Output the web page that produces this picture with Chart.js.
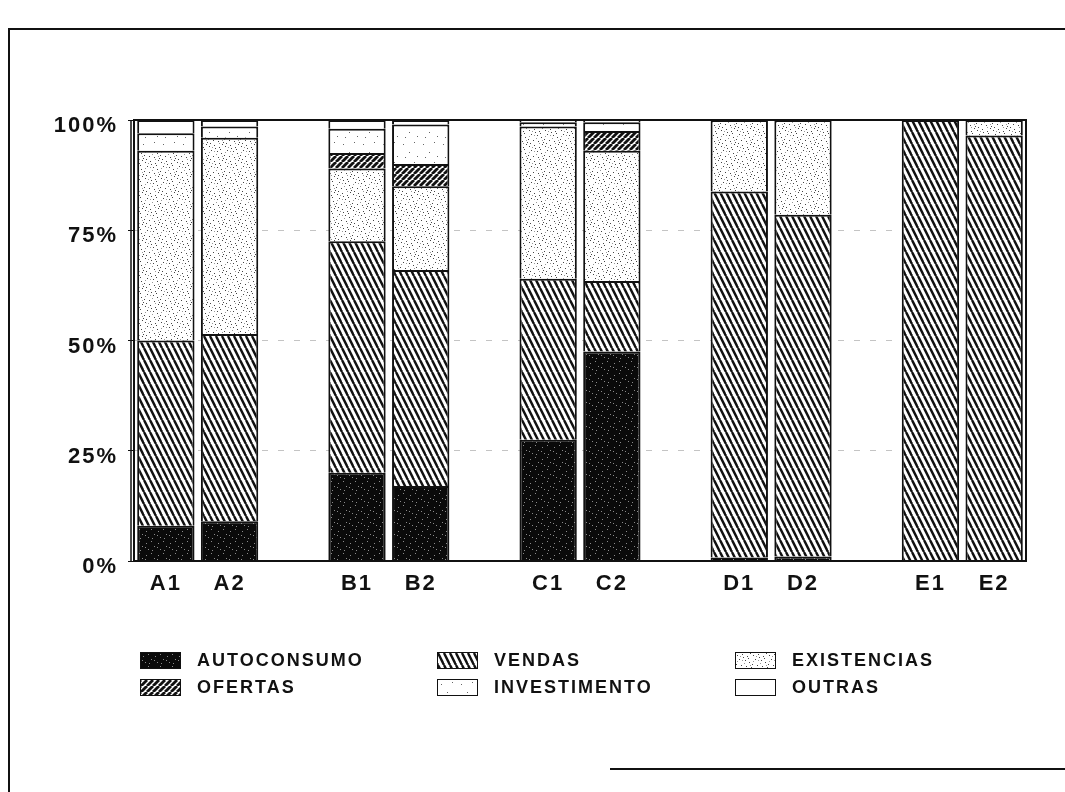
<!DOCTYPE html>
<html>
<head>
<meta charset="utf-8">
<script src="https://cdn.jsdelivr.net/npm/chart.js@4.4.1/dist/chart.umd.min.js"></script>
<style>
  html, body { margin: 0; padding: 0; background: #fff; }
  #page { position: relative; width: 1065px; height: 792px; overflow: hidden; background: #fff; }
  #wrap { position: absolute; left: 0; top: 0; width: 1065px; height: 792px; }
  .edge { position: absolute; background: #111; }
  #legend {
    position: absolute; left: 140px; top: 652px;
    display: grid; grid-template-columns: 297px 298px 260px; row-gap: 10px;
    font-family: "Liberation Sans", Arial, sans-serif; font-weight: bold;
    font-size: 18px; letter-spacing: 2px; color: #111;
  }
  #legend .item { display: flex; align-items: center; height: 17px; }
  #legend canvas { width: 39px; height: 15px; border: 1px solid #111; margin-right: 16px; }
</style>
</head>
<body>
<div id="page">
  <div class="edge" style="left:8px; top:28px; width:2px; height:764px;"></div>
  <div class="edge" style="left:8px; top:28px; width:1057px; height:2px;"></div>
  <div class="edge" style="left:610px; top:768px; width:455px; height:2px;"></div>
  <div id="wrap"><canvas id="grafico"></canvas></div>
  <div id="legend"></div>
</div>
<script>
// categorias (pares A..E) e valores em % de cada destino
const categories = ["A1", "A2", "B1", "B2", "C1", "C2", "D1", "D2", "E1", "E2"];
const autoconsumo = [8, 9, 20, 17, 27.5, 47.5, 0.8, 1, 0, 0];
const vendas = [42, 42.5, 52.5, 49, 36.5, 16, 83, 77.5, 100, 96.5];
const existencias = [43, 44.5, 16.5, 19, 34.5, 29.5, 16.2, 21.5, 0, 3.5];
const ofertas = [0, 0, 3.5, 5, 0, 4.5, 0, 0, 0, 0];
const investimento = [4, 2.5, 5.5, 9, 1, 2, 0, 0, 0, 0];
const outras = [3, 1.5, 2, 1, 0.5, 0.5, 0, 0, 0, 0];
const yTicks = [0, 25, 50, 75, 100];
const seriesNames = ["AUTOCONSUMO", "VENDAS", "EXISTENCIAS", "OFERTAS", "INVESTIMENTO", "OUTRAS"];

// espaço vazio entre cada par de barras
function withGaps(arr, filler) {
  const out = [];
  arr.forEach((v, i) => {
    if (i > 0 && i % 2 === 0) out.push(filler);
    out.push(v);
  });
  return out;
}

// tramas a preto e branco
function tile(w, h, paint) {
  const c = document.createElement("canvas");
  c.width = w; c.height = h;
  const g = c.getContext("2d");
  g.fillStyle = "#fff";
  g.fillRect(0, 0, w, h);
  paint(g);
  return c;
}
function dots(g, pts, color) {
  g.fillStyle = color;
  pts.forEach(([x, y]) => g.fillRect(x, y, 1, 1));
}
const tiles = {
  AUTOCONSUMO: tile(12, 12, g => {
    g.fillStyle = "#0a0a0a"; g.fillRect(0, 0, 12, 12);
    dots(g, [[2, 3], [7, 1], [10, 6], [4, 9], [8, 10], [1, 7]], "#8a8a8a");
  }),
  VENDAS: tile(6, 12, g => {
    g.strokeStyle = "#111"; g.lineWidth = 2.4;
    [-6, 0, 6].forEach(dx => { g.beginPath(); g.moveTo(dx, 0); g.lineTo(dx + 6, 12); g.stroke(); });
  }),
  EXISTENCIAS: tile(16, 16, g => {
    dots(g, [[1, 2], [6, 1], [11, 3], [14, 0], [3, 6], [9, 7], [13, 9], [0, 11], [5, 12], [10, 13], [15, 14], [7, 4], [2, 15], [12, 5]], "#444");
    dots(g, [[4, 3], [8, 10], [14, 12], [1, 8], [11, 15], [6, 7]], "#999");
  }),
  OFERTAS: tile(6, 6, g => {
    g.strokeStyle = "#111"; g.lineWidth = 2.8;
    [-6, 0, 6].forEach(dx => { g.beginPath(); g.moveTo(dx, 6); g.lineTo(dx + 6, 0); g.stroke(); });
  }),
  INVESTIMENTO: tile(20, 20, g => {
    dots(g, [[3, 4], [14, 2], [9, 12], [17, 16], [5, 17]], "#666");
  }),
  OUTRAS: tile(4, 4, g => {})
};

const labels = withGaps(categories, "");
const values = [autoconsumo, vendas, existencias, ofertas, investimento, outras];
const ctx = document.getElementById("grafico").getContext("2d");

const datasets = seriesNames.map((name, i) => ({
  label: name,
  data: withGaps(values[i], null),
  backgroundColor: ctx.createPattern(tiles[name], "repeat"),
  borderColor: "#111",
  borderWidth: 2,
  barPercentage: 0.9,
  categoryPercentage: 1.0
}));

// espaçamento das letras nas etiquetas dos eixos
const letterSpacing = {
  id: "letterSpacing",
  beforeLayout(chart) { chart.ctx.letterSpacing = "2px"; },
  beforeDraw(chart) { chart.ctx.letterSpacing = "2px"; }
};

// moldura da área do gráfico (linha dupla no eixo vertical)
const frame = {
  id: "frame",
  afterDatasetsDraw(chart) {
    const a = chart.chartArea;
    const c = chart.ctx;
    c.save();
    c.strokeStyle = "#111";
    c.lineWidth = 2;
    c.strokeRect(a.left, a.top, a.right - a.left, a.bottom - a.top);
    c.lineWidth = 1.5;
    c.beginPath();
    c.moveTo(a.left - 3, a.top);
    c.lineTo(a.left - 3, a.bottom);
    c.stroke();
    c.restore();
  }
};

const chart = new Chart(ctx, {
  type: "bar",
  data: { labels: labels, datasets: datasets },
  options: {
    responsive: true,
    maintainAspectRatio: false,
    animation: false,
    layout: { padding: { left: 44, right: 39, top: 120, bottom: 191 } },
    plugins: { legend: { display: false }, tooltip: { enabled: false } },
    scales: {
      x: {
        stacked: true,
        grid: { display: false },
        border: { display: false },
        ticks: {
          color: "#111",
          padding: 2,
          maxRotation: 0,
          autoSkip: false,
          font: { family: "'Liberation Sans', Arial, sans-serif", size: 22, weight: "bold" }
        },
        afterFit(scale) { scale.height = 40; }
      },
      y: {
        stacked: true,
        min: 0,
        max: 100,
        afterBuildTicks(scale) { scale.ticks = yTicks.map(v => ({ value: v })); },
        grid: {
          color: "#c4c4c4",
          lineWidth: 1,
          tickColor: "#111",
          tickLength: 6,
          tickBorderDash: []
        },
        border: { display: false, dash: [6, 10] },
        ticks: {
          color: "#111",
          padding: 10,
          labelOffset: 6,
          font: { family: "'Liberation Sans', Arial, sans-serif", size: 22, weight: "bold" },
          callback: v => v + "%"
        },
        afterFit(scale) { scale.width = 90; }
      }
    }
  },
  plugins: [letterSpacing, frame]
});

// legenda em três colunas, construída a partir dos conjuntos de dados
const legend = document.getElementById("legend");
chart.data.datasets.forEach(ds => {
  const item = document.createElement("div");
  item.className = "item";
  const sw = document.createElement("canvas");
  sw.width = 39; sw.height = 15;
  const g = sw.getContext("2d");
  g.fillStyle = g.createPattern(tiles[ds.label], "repeat");
  g.fillRect(0, 0, 39, 15);
  item.appendChild(sw);
  const t = document.createElement("span");
  t.textContent = ds.label;
  item.appendChild(t);
  legend.appendChild(item);
});
</script>
</body>
</html>
